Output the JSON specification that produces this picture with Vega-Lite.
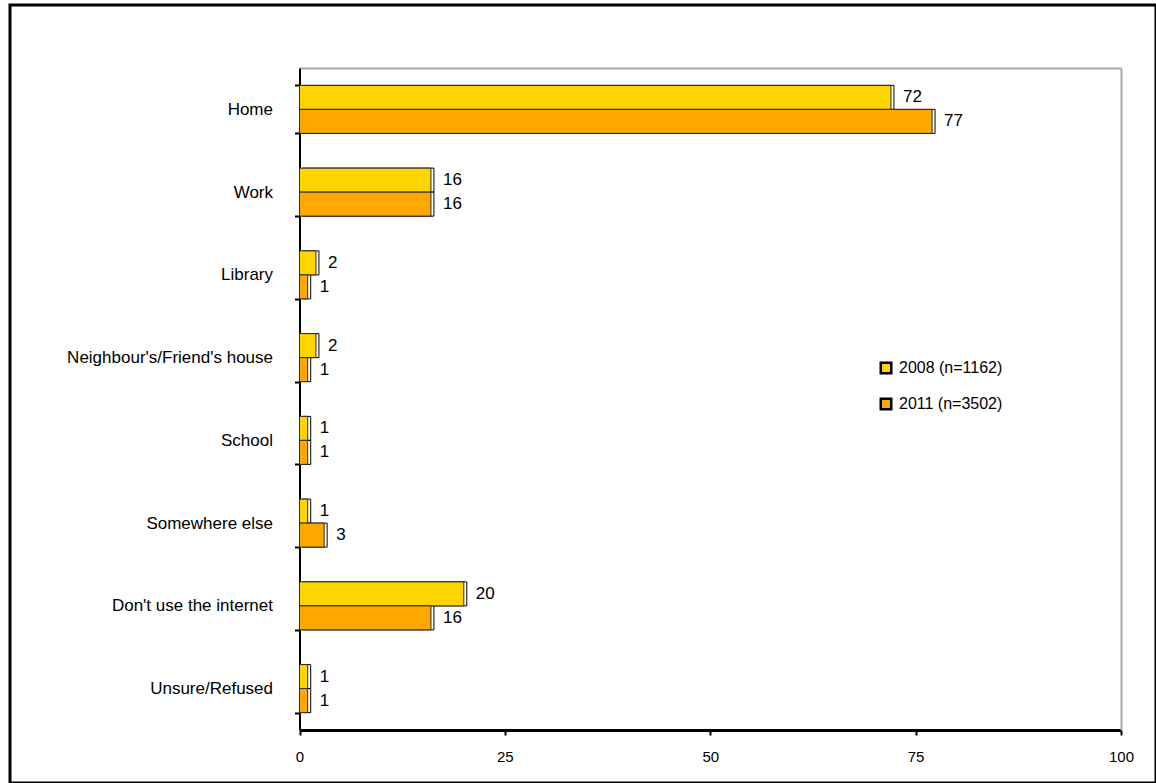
{
  "$schema": "https://vega.github.io/schema/vega-lite/v6.json",
  "width": 1146,
  "height": 778,
  "autosize": {"type": "none"},
  "padding": {"left": 10, "top": 5, "right": 0, "bottom": 0},
  "background": "white",
  "config": {
    "font": "Liberation Sans",
    "view": {"stroke": "black", "strokeWidth": 3}
  },
  "data": {
    "values": [
      {"place": "Home", "year": "2008 (n=1162)", "pct": 72},
      {"place": "Home", "year": "2011 (n=3502)", "pct": 77},
      {"place": "Work", "year": "2008 (n=1162)", "pct": 16},
      {"place": "Work", "year": "2011 (n=3502)", "pct": 16},
      {"place": "Library", "year": "2008 (n=1162)", "pct": 2},
      {"place": "Library", "year": "2011 (n=3502)", "pct": 1},
      {"place": "Neighbour's/Friend's house", "year": "2008 (n=1162)", "pct": 2},
      {"place": "Neighbour's/Friend's house", "year": "2011 (n=3502)", "pct": 1},
      {"place": "School", "year": "2008 (n=1162)", "pct": 1},
      {"place": "School", "year": "2011 (n=3502)", "pct": 1},
      {"place": "Somewhere else", "year": "2008 (n=1162)", "pct": 1},
      {"place": "Somewhere else", "year": "2011 (n=3502)", "pct": 3},
      {"place": "Don't use the internet", "year": "2008 (n=1162)", "pct": 20},
      {"place": "Don't use the internet", "year": "2011 (n=3502)", "pct": 16},
      {"place": "Unsure/Refused", "year": "2008 (n=1162)", "pct": 1},
      {"place": "Unsure/Refused", "year": "2011 (n=3502)", "pct": 1}
    ]
  },
  "resolve": {"axis": {"x": "independent", "y": "independent"}},
  "layer": [
    {
      "mark": {"type": "bar", "fill": "white", "stroke": "black", "strokeWidth": 1, "xOffset": 3, "yOffset": -3},
      "encoding": {
        "y": {
          "field": "place", "type": "nominal", "sort": null,
          "scale": {"range": [63, 725], "paddingInner": 0.42, "paddingOuter": 0.21},
          "axis": {
            "title": null, "orient": "left", "offset": -289.5,
            "domainColor": "black", "domainWidth": 2,
            "tickBand": "extent", "tickColor": "black", "tickWidth": 2, "tickSize": 5,
            "labelFontSize": 17, "labelColor": "black", "labelPadding": 22, "labelLimit": 400
          }
        },
        "yOffset": {"field": "year", "type": "nominal", "sort": null},
        "x": {
          "field": "pct", "type": "quantitative",
          "scale": {"domain": [0, 100], "range": [289.5, 1111], "nice": false, "zero": true},
          "axis": {
            "title": null, "orient": "bottom", "offset": -53,
            "values": [0, 25, 50, 75, 100], "grid": false,
            "labelFlush": false, "labelOverlap": false,
            "domainColor": "black", "domainWidth": 3,
            "tickColor": "black", "tickWidth": 2, "tickSize": 5,
            "labelFontSize": 15, "labelColor": "black", "labelPadding": 14
          }
        }
      }
    },
    {
      "mark": {"type": "bar", "stroke": "#2a2a2a", "strokeWidth": 1},
      "encoding": {
        "y": {
          "field": "place", "type": "nominal", "sort": null,
          "axis": {
            "orient": "right", "offset": -35, "title": null,
            "domainColor": "#a8a8a8", "domainWidth": 2,
            "ticks": false, "labels": false
          }
        },
        "yOffset": {"field": "year", "type": "nominal", "sort": null},
        "x": {
          "field": "pct", "type": "quantitative",
          "axis": {
            "orient": "top", "offset": -63, "title": null, "grid": false,
            "domainColor": "#a8a8a8", "domainWidth": 2,
            "ticks": false, "labels": false
          }
        },
        "color": {
          "field": "year", "type": "nominal", "sort": null,
          "scale": {"range": ["#FFD500", "#FFA800"]},
          "legend": {
            "title": null, "orient": "none", "legendX": 868, "legendY": 355,
            "padding": 0, "symbolType": "square", "symbolSize": 110,
            "symbolStrokeColor": "black", "symbolStrokeWidth": 2.5,
            "labelFontSize": 16, "labelColor": "black", "labelOffset": 5,
            "rowPadding": 14
          }
        }
      }
    },
    {
      "mark": {"type": "text", "align": "left", "baseline": "middle", "dx": 12, "fontSize": 17, "color": "black"},
      "encoding": {
        "y": {"field": "place", "type": "nominal", "sort": null, "axis": null},
        "yOffset": {"field": "year", "type": "nominal", "sort": null},
        "x": {"field": "pct", "type": "quantitative", "axis": null},
        "text": {"field": "pct", "type": "quantitative"}
      }
    }
  ]
}
